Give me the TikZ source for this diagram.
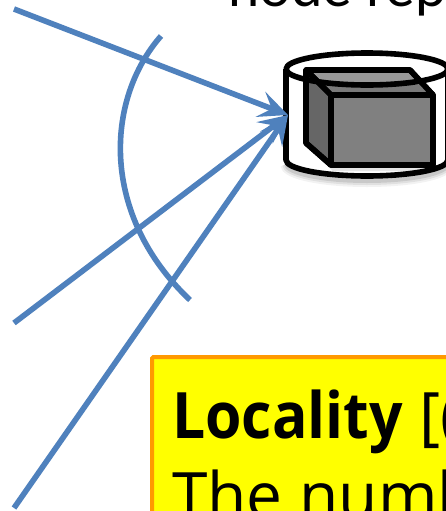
\documentclass[tikz,border=0pt]{standalone}
\usepackage{fontspec}
\setmainfont{Open Sans}
\newfontfamily\topfont{Lato}
\newfontfamily\boldnarrow[FakeStretch=0.92]{Open Sans Bold}
\usetikzlibrary{arrows.meta}
\definecolor{linkblue}{HTML}{4F81BD}
\definecolor{boxorange}{HTML}{FF9900}
\definecolor{calloutyellow}{HTML}{FFFF00}
\tikzset{
  px/.style={x=0.75pt,y=-0.75pt},
  link/.style={draw=linkblue,line width=4.2pt,-{Stealth[length=22pt,width=20pt,inset=9pt]}},
  sweep/.style={draw=linkblue,line width=4.2pt},
  outline/.style={draw=black,line width=4.2pt,line join=round},
  bigtext/.style={anchor=base west,inner sep=0pt,font=\fontsize{48pt}{48pt}\selectfont,text=black},
  toptext/.style={anchor=base west,inner sep=0pt,font=\topfont\fontsize{42pt}{42pt}\selectfont,text=black}
}
\begin{document}
\begin{tikzpicture}[px]
\useasboundingbox (0,0) rectangle (446,511);
\clip (0,0) rectangle (446,511);
\fill[white] (0,0) rectangle (446,511);
% shadow of the cylinder
\foreach \o/\w in {0.05/9,0.07/6,0.10/3}{
  \draw[black,opacity=\o,line width=\w pt] (286,164) arc[start angle=180,end angle=0,x radius=81,y radius=17];
}
% box
\fill[black!20,opacity=.5] (310,150) -- (333,171) -- (436,171) -- (436,166) -- (333,166) -- cycle;
\filldraw[outline,fill=black!40] (306,70) -- (410,70) -- (433,95) -- (331,95) -- cycle;
\fill[black!52] (318,85) -- (422,85) -- (433,95) -- (331,95) -- cycle;
\filldraw[outline,fill=black!60] (306,70) -- (331,95) -- (331,165) -- (306,143) -- cycle;
\filldraw[outline,fill=black!50] (331,95) rectangle (433,165);
% cylinder
\draw[outline] (367,69) ellipse[x radius=81,y radius=16];
\draw[outline] (286,69) -- (286,160) arc[start angle=180,end angle=0,x radius=81,y radius=16] -- (448,69);
% re-draw the front of the box that sits above the rim
\draw[outline] (331,95) -- (433,95) (331,95) -- (331,165) (433,95) -- (433,165) (331,165) -- (433,165);
\draw[outline] (331,95) -- (306,70) -- (306,143) -- (331,165);
\draw[outline] (306,70) -- (410,70) -- (433,95);
% text at the top
\node[toptext] (heading) at (228,6) {node rep};
% connectors
\coordinate (hub) at (288,115);
\coordinate (srcA) at (14,9);
\coordinate (srcB) at (14,323);
\coordinate (srcC) at (14,508);
\coordinate (arcA) at (161,36);
\coordinate (arcB) at (190,300);
\draw[sweep] (arcA) .. controls (105,100) and (100,215) .. (arcB);
\draw[link] (srcA) -- (hub);
\draw[link] (srcB) -- (hub);
\draw[link] (srcC) -- (hub);
% callout
\filldraw[draw=boxorange,fill=calloutyellow,line width=3pt,rounded corners=1pt] (152,357) rectangle (470,540);
\node[bigtext] (title) at (172,438) {{\boldnarrow Locality} [(};
\node[bigtext] (body) at (172,518) {The numb};
\end{tikzpicture}
\end{document}
